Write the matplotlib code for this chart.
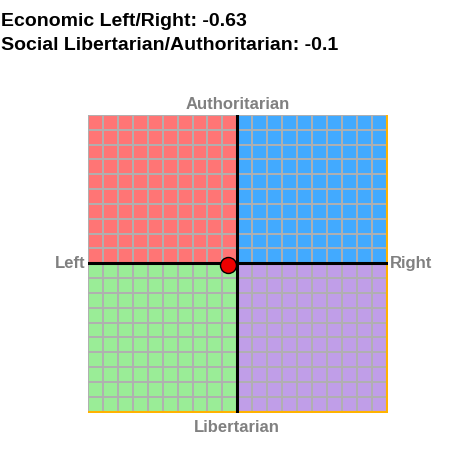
import numpy as np
import matplotlib.pyplot as plt

plt.rcParams['font.family'] = ['Liberation Sans', 'DejaVu Sans']

econ = -0.63
social = -0.1
axis_labels = ["Authoritarian", "Libertarian", "Left", "Right"]
quadrant_colors = ["#FF7575", "#42AAFF", "#9AED97", "#C09EE8"]

fig = plt.figure(figsize=(4.57, 4.49), dpi=100)
ax = fig.add_axes([0.1926, 0.0802, 0.6565, 0.6637])

# quadrants: top-left, top-right, bottom-left, bottom-right
ax.fill_between([-10, 0], 0, 10, color=quadrant_colors[0], lw=0)
ax.fill_between([0, 10], 0, 10, color=quadrant_colors[1], lw=0)
ax.fill_between([-10, 0], -10, 0, color=quadrant_colors[2], lw=0)
ax.fill_between([0, 10], -10, 0, color=quadrant_colors[3], lw=0)

for v in range(-10, 11):
    ax.axvline(v, color="#B0B0B0", lw=1.4, zorder=2)
    ax.axhline(v, color="#B0B0B0", lw=1.4, zorder=2)

ax.plot([10, 10], [-10, 10], color="#FFB300", lw=1.5, zorder=3)
ax.plot([-10, 10], [-10, -10], color="#FFB300", lw=1.5, zorder=3)

ax.axvline(0, color="black", lw=2.2, zorder=4)
ax.axhline(0, color="black", lw=2.2, zorder=4)

ax.plot(econ, social, "o", color="#EE0000", mec="black", mew=1.0, ms=11.5, zorder=5)

ax.set_xlim(-10, 10.1)
ax.set_ylim(-10.1, 10)
ax.axis("off")

lab = dict(color="#808080", fontweight="bold", fontsize=12)
ax.text(0, 10.4, axis_labels[0], ha="center", va="baseline", **lab)
ax.text(0, -11.4, axis_labels[1], ha="center", va="baseline", **lab)
ax.text(-10.2, 0, axis_labels[2], ha="right", va="center", **lab)
ax.text(10.2, 0, axis_labels[3], ha="left", va="center", **lab)

title = dict(ha="left", va="baseline", fontsize=14, fontweight="bold")
fig.text(0.002, 1 - 26 / 449, "Economic Left/Right: {}".format(econ), **title)
fig.text(0.002, 1 - 50 / 449, "Social Libertarian/Authoritarian: {}".format(social), **title)

fig.savefig("out.png", dpi=100)
